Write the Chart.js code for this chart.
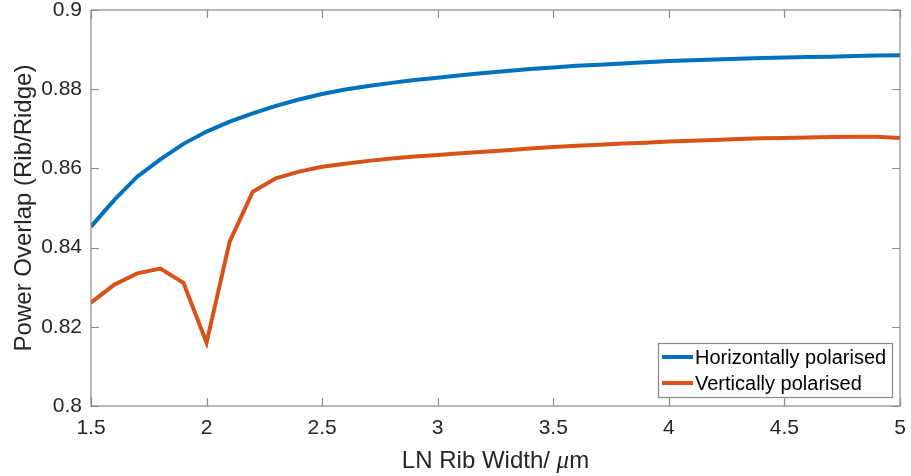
<!DOCTYPE html>
<html>
<head>
<meta charset="utf-8">
<title>Power Overlap vs LN Rib Width</title>
<script src="https://cdn.jsdelivr.net/npm/chart.js@4/dist/chart.umd.min.js"></script>
<style>
  html, body { margin: 0; padding: 0; background: #fff; }
  #wrap { width: 911px; height: 476px; }
</style>
</head>
<body>
<div id="wrap"><canvas id="graficaOverlap" width="911" height="476"></canvas></div>
<script>
// rib widths in µm
var ribWidth = [1.5, 1.6, 1.7, 1.8, 1.9, 2.0, 2.1, 2.2, 2.3, 2.4,
                2.5, 2.6, 2.7, 2.8, 2.9, 3.0, 3.1, 3.2, 3.3, 3.4,
                3.5, 3.6, 3.7, 3.8, 3.9, 4.0, 4.1, 4.2, 4.3, 4.4,
                4.5, 4.6, 4.7, 4.8, 4.9, 5.0];

var overlapHoriz = [0.8453, 0.8520, 0.8579, 0.8623, 0.8662, 0.8693, 0.8718, 0.8739, 0.8758, 0.8774,
                    0.8788, 0.8799, 0.8808, 0.8816, 0.8823, 0.8829, 0.8835, 0.8841, 0.8846, 0.8851,
                    0.8855, 0.8859, 0.8862, 0.8865, 0.8868, 0.8871, 0.8873, 0.8875, 0.8877, 0.8879,
                    0.8880, 0.8881, 0.8882, 0.8884, 0.8885, 0.8886];

var overlapVert = [0.8261, 0.8306, 0.8335, 0.8347, 0.8311, 0.8160, 0.8415, 0.8541, 0.8575, 0.8592,
                   0.8604, 0.8612, 0.8619, 0.8625, 0.8630, 0.8634, 0.8638, 0.8642, 0.8646, 0.8650,
                   0.8654, 0.8657, 0.8660, 0.8663, 0.8665, 0.8668, 0.8670, 0.8672, 0.8674, 0.8676,
                   0.8677, 0.8678, 0.8679, 0.8680, 0.8680, 0.8677];

var seriesNames = ['Horizontally polarised', 'Vertically polarised'];
var seriesColors = ['#0072BD', '#D95319'];

var FONT = 'Arial, "Liberation Sans", Helvetica, sans-serif';
var AXIS_GREY = '#8a8a8a';
var TEXT_GREY = '#262626';

function toPoints(xs, ys) {
    return xs.map(function(x, i) { return { x: x, y: ys[i] }; });
}

// axes box with inward ticks on all four sides
var boxAxes = {
    id: 'boxAxes',
    afterDatasetsDraw: function(chart) {
        var ctx = chart.ctx, a = chart.chartArea;
        var xs = chart.scales.x, ys = chart.scales.y;
        var len = 8;
        ctx.save();
        ctx.strokeStyle = AXIS_GREY;
        ctx.lineWidth = 1.2;
        ctx.strokeRect(a.left, a.top, a.right - a.left, a.bottom - a.top);
        ctx.beginPath();
        xs.ticks.forEach(function(t) {
            var px = Math.round(xs.getPixelForValue(t.value)) + 0.5;
            ctx.moveTo(px, a.bottom); ctx.lineTo(px, a.bottom - len);
            ctx.moveTo(px, a.top); ctx.lineTo(px, a.top + len);
        });
        ys.ticks.forEach(function(t) {
            var py = Math.round(ys.getPixelForValue(t.value)) + 0.5;
            ctx.moveTo(a.left, py); ctx.lineTo(a.left + len, py);
            ctx.moveTo(a.right, py); ctx.lineTo(a.right - len, py);
        });
        ctx.stroke();
        ctx.restore();
    }
};

// x label, with the mu set in italic like a TeX symbol
var xLabel = {
    id: 'xLabel',
    afterDraw: function(chart) {
        var ctx = chart.ctx, a = chart.chartArea;
        var parts = [
            { t: 'LN Rib Width/ ', f: '24px ' + FONT },
            { t: '\u03BC', f: 'italic 25px "Liberation Serif", "DejaVu Serif", serif' },
            { t: 'm', f: '24px ' + FONT }
        ];
        ctx.save();
        var total = 0;
        parts.forEach(function(p) { ctx.font = p.f; p.w = ctx.measureText(p.t).width; total += p.w; });
        var x = (a.left + a.right) / 2 - total / 2;
        var y = a.bottom + 62;
        ctx.fillStyle = TEXT_GREY;
        ctx.textBaseline = 'alphabetic';
        parts.forEach(function(p) { ctx.font = p.f; ctx.fillText(p.t, x, y); x += p.w; });
        ctx.restore();
    }
};

// boxed legend in the lower right corner of the plot area
var boxLegend = {
    id: 'boxLegend',
    afterDraw: function(chart) {
        var ctx = chart.ctx, a = chart.chartArea;
        var w = 234, h = 54;
        var x0 = a.right - 8 - w, y0 = a.bottom - 9 - h;
        ctx.save();
        ctx.fillStyle = '#fff';
        ctx.fillRect(x0, y0, w, h);
        ctx.strokeStyle = AXIS_GREY;
        ctx.lineWidth = 1.2;
        ctx.strokeRect(x0 + 0.5, y0 + 0.5, w, h);
        ctx.font = '20px ' + FONT;
        ctx.textBaseline = 'middle';
        ctx.fillStyle = '#000';
        chart.data.datasets.forEach(function(ds, i) {
            var cy = y0 + 14 + i * 26;
            ctx.strokeStyle = ds.borderColor;
            ctx.lineWidth = 4;
            ctx.beginPath();
            ctx.moveTo(x0 + 4, cy); ctx.lineTo(x0 + 35, cy);
            ctx.stroke();
            ctx.fillText(ds.label, x0 + 37, cy + 1);
        });
        ctx.restore();
    }
};

var ctx = document.getElementById('graficaOverlap').getContext('2d');
var graficaOverlap = new Chart(ctx, {
    type: 'line',
    data: {
        datasets: [{
            label: seriesNames[0],
            data: toPoints(ribWidth, overlapHoriz),
            borderColor: seriesColors[0],
            borderWidth: 4,
            pointRadius: 0,
            tension: 0
        }, {
            label: seriesNames[1],
            data: toPoints(ribWidth, overlapVert),
            borderColor: seriesColors[1],
            borderWidth: 4,
            pointRadius: 0,
            tension: 0
        }]
    },
    options: {
        responsive: false,
        animation: false,
        events: [],
        layout: { padding: { top: 10, right: 11, left: 0, bottom: 0 } },
        plugins: {
            legend: { display: false },
            tooltip: { enabled: false }
        },
        scales: {
            x: {
                type: 'linear',
                min: 1.5,
                max: 5,
                grid: { display: false, drawTicks: false },
                border: { display: false },
                ticks: {
                    stepSize: 0.5,
                    padding: 10,
                    maxRotation: 0,
                    color: TEXT_GREY,
                    font: { family: FONT, size: 21 },
                    callback: function(v) { return String(Number(v.toFixed(1))); }
                },
                afterFit: function(scale) {
                    scale.height = 70;
                    scale.paddingLeft = 0;
                    scale.paddingRight = 0;
                }
            },
            y: {
                min: 0.8,
                max: 0.9,
                grid: { display: false, drawTicks: false },
                border: { display: false },
                ticks: {
                    stepSize: 0.02,
                    padding: 9,
                    color: TEXT_GREY,
                    font: { family: FONT, size: 21 },
                    callback: function(v) { return String(Number(v.toFixed(2))); }
                },
                title: {
                    display: true,
                    text: 'Power Overlap (Rib/Ridge)',
                    color: TEXT_GREY,
                    font: { family: FONT, size: 24 },
                    padding: { top: 9.5, bottom: 0 }
                },
                afterFit: function(scale) {
                    scale.width = 91;
                    scale.paddingTop = 0;
                    scale.paddingBottom = 0;
                }
            }
        }
    },
    plugins: [boxAxes, xLabel, boxLegend]
});
</script>
</body>
</html>
